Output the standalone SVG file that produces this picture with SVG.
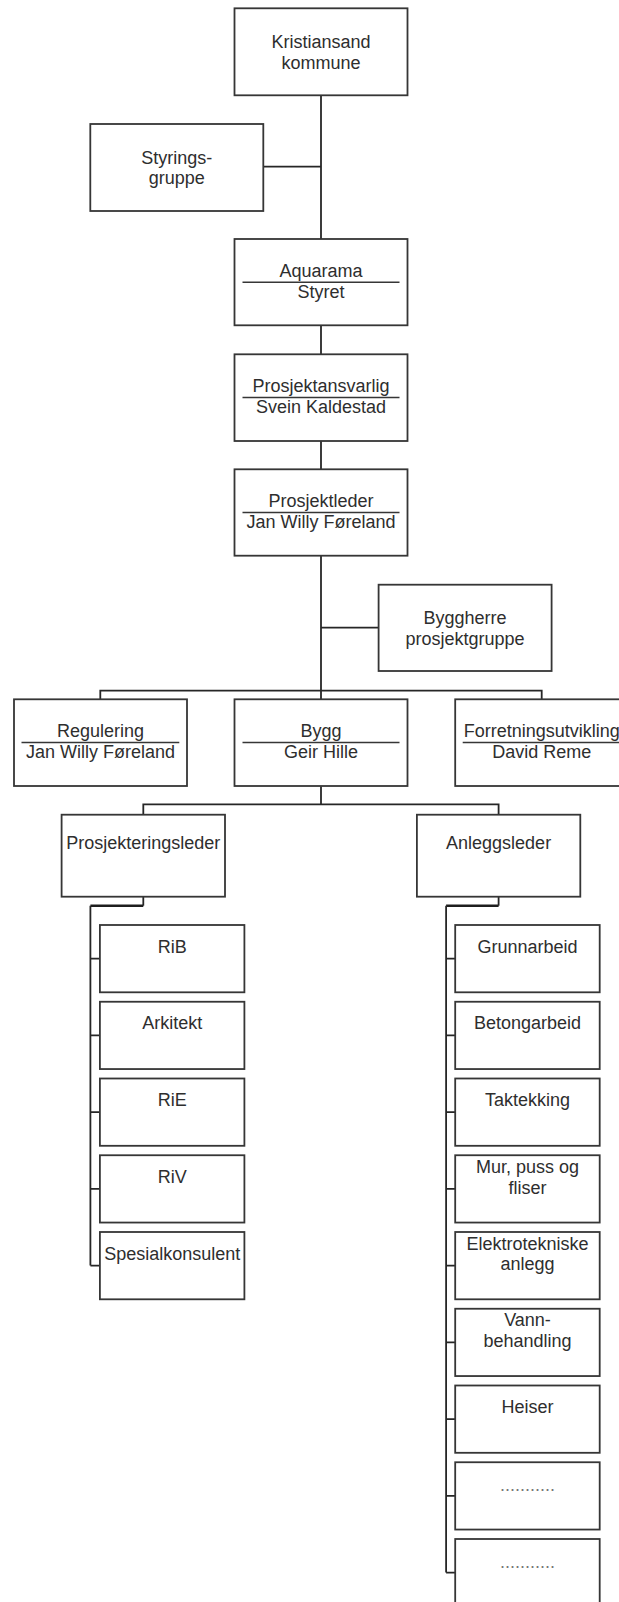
<svg xmlns="http://www.w3.org/2000/svg" width="619" height="1602" viewBox="0 0 619 1602">
<style>
  .box { fill: #ffffff; stroke: #363636; stroke-width: 1.8; }
  .div { stroke: #363636; stroke-width: 1.6; fill: none; }
  .con { stroke: #262626; stroke-width: 1.8; fill: none; }
  .thick { stroke: #1e1e1e; stroke-width: 2.6; fill: none; }
  text { font-family: "Liberation Sans", Arial, sans-serif; font-size: 18px; fill: #2e2e2e; text-anchor: middle; }
  .dots { fill: #777777; }
</style>
<rect x="0" y="0" width="619" height="1602" fill="#ffffff"/>
<g id="connectors">
  <path class="con" d="M321 95.3 V699.3"/>
  <path class="con" d="M263.3 166.7 H321"/>
  <path class="con" d="M321 627.7 H378.6"/>
  <path class="con" d="M100.3 699.3 V690.7 H541.7 V699.3"/>
  <path class="con" d="M321 786.3 V804.3"/>
  <path class="con" d="M143.3 814.7 V804.3 H498.6 V814.7"/>
  <path class="con" d="M143.3 896.7 V905.7"/>
  <path class="thick" d="M143.3 905.7 H90.4"/>
  <path class="con" d="M90.4 905.7 V1265.6"/>
  <path class="con" d="M90.4 958.6 H99.9 M90.4 1035.4 H99.9 M90.4 1112.1 H99.9 M90.4 1188.9 H99.9 M90.4 1265.6 H99.9"/>
  <path class="con" d="M498.6 896.7 V905.7"/>
  <path class="thick" d="M498.6 905.7 H446.1"/>
  <path class="con" d="M446.1 905.7 V1572.6"/>
  <path class="con" d="M446.1 958.6 H455.2 M446.1 1035.4 H455.2 M446.1 1112.1 H455.2 M446.1 1188.9 H455.2 M446.1 1265.6 H455.2 M446.1 1342.4 H455.2 M446.1 1419.1 H455.2 M446.1 1495.9 H455.2 M446.1 1572.6 H455.2"/>
</g>
<g id="kristiansand">
  <rect class="box" x="234.5" y="8.3" width="173" height="87"/>
  <text x="321" y="48">Kristiansand</text>
  <text x="321" y="68.6">kommune</text>
</g>
<g id="styringsgruppe">
  <rect class="box" x="90.3" y="124" width="173" height="87"/>
  <text x="176.8" y="163.7">Styrings-</text>
  <text x="176.8" y="184.3">gruppe</text>
</g>
<g id="aquarama">
  <rect class="box" x="234.5" y="239" width="173" height="86.3"/>
  <text x="321" y="276.7">Aquarama</text>
  <line class="div" x1="242.5" y1="282.3" x2="399.5" y2="282.3"/>
  <text x="321" y="297.7">Styret</text>
</g>
<g id="prosjektansvarlig">
  <rect class="box" x="234.5" y="354.3" width="173" height="86.7"/>
  <text x="321" y="392">Prosjektansvarlig</text>
  <line class="div" x1="242.5" y1="397.5" x2="399.5" y2="397.5"/>
  <text x="321" y="413">Svein Kaldestad</text>
</g>
<g id="prosjektleder">
  <rect class="box" x="234.5" y="469.3" width="173" height="86.4"/>
  <text x="321" y="507">Prosjektleder</text>
  <line class="div" x1="242.5" y1="512.5" x2="399.5" y2="512.5"/>
  <text x="321" y="528">Jan Willy Føreland</text>
</g>
<g id="byggherre">
  <rect class="box" x="378.6" y="584.7" width="173" height="86.3"/>
  <text x="465.1" y="624.4">Byggherre</text>
  <text x="465.1" y="645">prosjektgruppe</text>
</g>
<g id="regulering">
  <rect class="box" x="14" y="699.3" width="173" height="86.7"/>
  <text x="100.5" y="737">Regulering</text>
  <line class="div" x1="21.5" y1="742.5" x2="179.3" y2="742.5"/>
  <text x="100.5" y="758">Jan Willy Føreland</text>
</g>
<g id="bygg">
  <rect class="box" x="234.5" y="699.3" width="173" height="86.7"/>
  <text x="321" y="737">Bygg</text>
  <line class="div" x1="242.5" y1="742.5" x2="399.5" y2="742.5"/>
  <text x="321" y="758">Geir Hille</text>
</g>
<g id="forretningsutvikling">
  <rect class="box" x="455.2" y="699.3" width="173" height="86.7"/>
  <text x="541.7" y="737">Forretningsutvikling</text>
  <line class="div" x1="462.7" y1="742.5" x2="621" y2="742.5"/>
  <text x="541.7" y="758">David Reme</text>
</g>
<g id="prosjekteringsleder">
  <rect class="box" x="61.6" y="814.7" width="163.4" height="82"/>
  <text x="143.3" y="848.5">Prosjekteringsleder</text>
</g>
<g id="anleggsleder">
  <rect class="box" x="416.9" y="814.7" width="163.4" height="82"/>
  <text x="498.6" y="848.5">Anleggsleder</text>
</g>
<g id="rib">
  <rect class="box" x="99.9" y="925" width="144.5" height="67.3"/>
  <text x="172.2" y="952.7">RiB</text>
</g>
<g id="arkitekt">
  <rect class="box" x="99.9" y="1001.75" width="144.5" height="67.3"/>
  <text x="172.2" y="1029.45">Arkitekt</text>
</g>
<g id="rie">
  <rect class="box" x="99.9" y="1078.5" width="144.5" height="67.3"/>
  <text x="172.2" y="1106.2">RiE</text>
</g>
<g id="riv">
  <rect class="box" x="99.9" y="1155.25" width="144.5" height="67.3"/>
  <text x="172.2" y="1182.95">RiV</text>
</g>
<g id="spesialkonsulent">
  <rect class="box" x="99.9" y="1232" width="144.5" height="67.3"/>
  <text x="172.2" y="1259.7">Spesialkonsulent</text>
</g>
<g id="grunnarbeid">
  <rect class="box" x="455.2" y="925" width="144.5" height="67.3"/>
  <text x="527.5" y="952.7">Grunnarbeid</text>
</g>
<g id="betongarbeid">
  <rect class="box" x="455.2" y="1001.75" width="144.5" height="67.3"/>
  <text x="527.5" y="1029.45">Betongarbeid</text>
</g>
<g id="taktekking">
  <rect class="box" x="455.2" y="1078.5" width="144.5" height="67.3"/>
  <text x="527.5" y="1106.2">Taktekking</text>
</g>
<g id="mur">
  <rect class="box" x="455.2" y="1155.25" width="144.5" height="67.3"/>
  <text x="527.5" y="1172.9">Mur, puss og</text>
  <text x="527.5" y="1193.5">fliser</text>
</g>
<g id="elektro">
  <rect class="box" x="455.2" y="1232" width="144.5" height="67.3"/>
  <text x="527.5" y="1249.7">Elektrotekniske</text>
  <text x="527.5" y="1270.3">anlegg</text>
</g>
<g id="vann">
  <rect class="box" x="455.2" y="1308.75" width="144.5" height="67.3"/>
  <text x="527.5" y="1326.4">Vann-</text>
  <text x="527.5" y="1347">behandling</text>
</g>
<g id="heiser">
  <rect class="box" x="455.2" y="1385.5" width="144.5" height="67.3"/>
  <text x="527.5" y="1413.2">Heiser</text>
</g>
<g id="dots1">
  <rect class="box" x="455.2" y="1462.25" width="144.5" height="67.3"/>
  <text class="dots" x="527.5" y="1490.5">...........</text>
</g>
<g id="dots2">
  <rect class="box" x="455.2" y="1539" width="144.5" height="67.3"/>
  <text class="dots" x="527.5" y="1567.5">...........</text>
</g>
</svg>
